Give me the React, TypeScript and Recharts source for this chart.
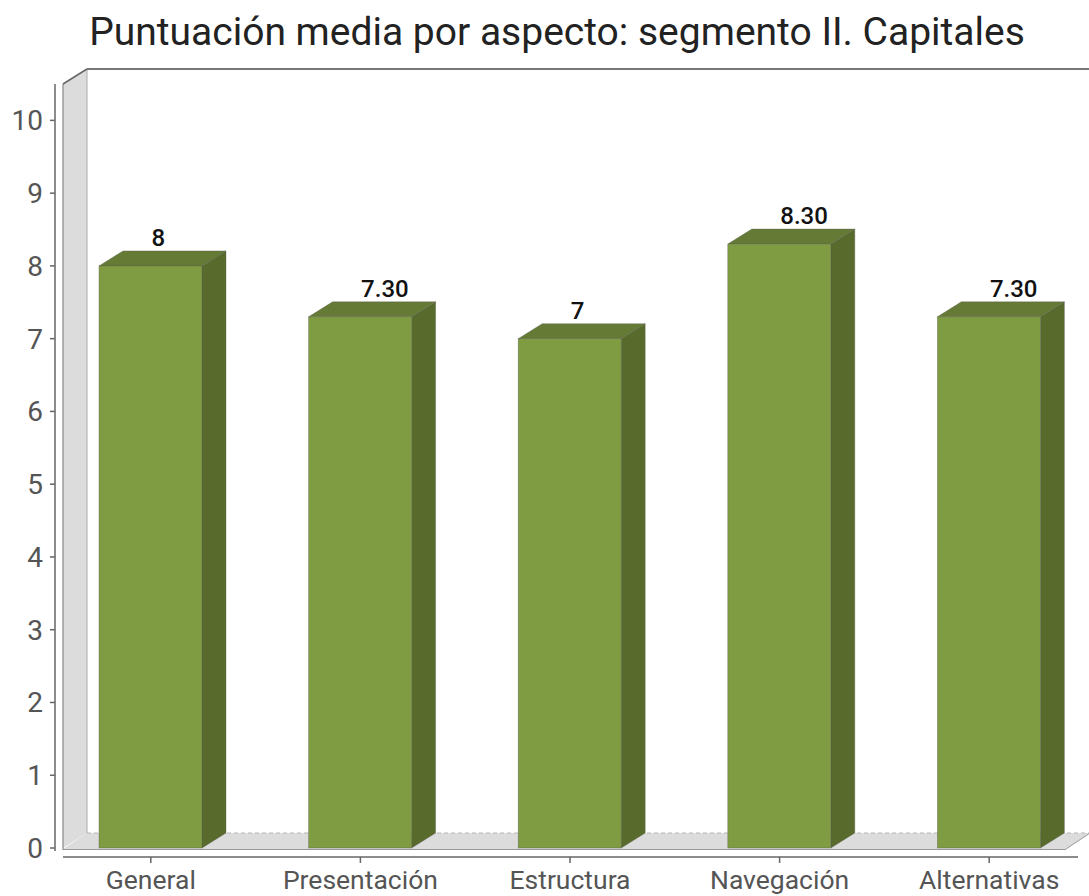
import React from 'react';
import { BarChart, Bar, XAxis, YAxis, LabelList } from 'recharts';

const categories = ['General', 'Presentación', 'Estructura', 'Navegación', 'Alternativas'];
const scores = [8, 7.3, 7, 8.3, 7.3];
const yTicks = [0, 1, 2, 3, 4, 5, 6, 7, 8, 9, 10];
const title = 'Puntuación media por aspecto: segmento II. Capitales';

const data = categories.map((name, i) => ({ name, value: scores[i] }));

const W = 1089;
const H = 896;
const TOP = 84;
const RIGHT = 23;
const Y_AXIS_W = 63;
const X_AXIS_H = 48;
const DX = 24;
const DY = -15;
const plotBottom = H - X_AXIS_H; // 848
const plotLeft = Y_AXIS_W; // 63
const plotRight = W - RIGHT; // 1066

const FONT = 'Roboto, "Noto Sans", sans-serif';

const fmt = (v: number) => (Number.isInteger(v) ? String(v) : v.toFixed(2));

const Bar3D = (props: any) => {
  const { x, y, width, height } = props;
  if (height == null || width == null) return null;
  const front = '#7f9c42';
  const top = '#657b35';
  const side = '#586b2c';
  const edge = 'rgba(90,90,80,0.6)';
  return (
    <g>
      <polygon
        points={`${x + width},${y} ${x + width + DX},${y + DY} ${x + width + DX},${y + height + DY} ${x + width},${y + height}`}
        fill={side}
        stroke={edge}
        strokeWidth={0.6}
      />
      <polygon
        points={`${x},${y} ${x + DX},${y + DY} ${x + width + DX},${y + DY} ${x + width},${y}`}
        fill={top}
        stroke={edge}
        strokeWidth={0.6}
      />
      <rect x={x} y={y} width={width} height={height} fill={front} stroke={edge} strokeWidth={0.6} />
    </g>
  );
};

const ValueLabel = (props: any) => {
  const { x, y, width, value } = props;
  return (
    <text
      x={x + width / 2 + 1}
      y={y + DY - 5}
      textAnchor="start"
      fontFamily={FONT}
      fontSize={24}
      fontWeight={500}
      fill="#111"
    >
      {fmt(Number(value))}
    </text>
  );
};

const YTick = (props: any) => {
  const { y, payload } = props;
  return (
    <g>
      <line x1={50} x2={55} y1={y} y2={y} stroke="#666" strokeWidth={1.5} />
      <text x={43} y={y + 10} textAnchor="end" fontFamily={FONT} fontSize={28} fill="#555">
        {payload.value}
      </text>
    </g>
  );
};

const XTick = (props: any) => {
  const { x, payload } = props;
  return (
    <g>
      <line x1={x} x2={x} y1={plotBottom + 9} y2={plotBottom + 15} stroke="#666" strokeWidth={1.5} />
      <text x={x} y={plotBottom + 41} textAnchor="middle" fontFamily={FONT} fontSize={26.5} fill="#555">
        {payload.value}
      </text>
    </g>
  );
};

const Background = () => {
  const backTop = TOP + DY;
  const backBottom = plotBottom + DY;
  return (
    <svg width={W} height={H} style={{ position: 'absolute', left: 0, top: 0 }}>
      <rect x={0} y={0} width={W} height={H} fill="#fff" />
      <text
        x={557}
        y={45}
        textAnchor="middle"
        fontFamily={FONT}
        fontSize={39}
        fontWeight={400}
        fill="#222"
      >
        {title}
      </text>
      {/* left wall */}
      <polygon
        points={`${plotLeft},${TOP} ${plotLeft + DX},${backTop} ${plotLeft + DX},${backBottom} ${plotLeft},${plotBottom}`}
        fill="#dcdcdc"
      />
      {/* floor */}
      <polygon
        points={`${plotLeft},${plotBottom + 1} ${plotLeft + DX},${backBottom} ${plotRight + DX},${backBottom} ${plotRight},${plotBottom + 1}`}
        fill="#dcdcdc"
      />
      <line x1={plotLeft + DX} x2={plotRight + DX} y1={backBottom} y2={backBottom} stroke="#b5b5b5" strokeWidth={1} strokeDasharray="4 3" />
      <line x1={plotLeft} x2={plotRight} y1={plotBottom + 1.5} y2={plotBottom + 1.5} stroke="#999" strokeWidth={1} />
      <line x1={plotRight} x2={plotRight + DX} y1={plotBottom + 1} y2={backBottom} stroke="#999" strokeWidth={1} />
      {/* wall edges */}
      <line x1={plotLeft} x2={plotLeft} y1={TOP} y2={plotBottom + 2} stroke="#888" strokeWidth={1.2} />
      <line x1={plotLeft + DX} x2={plotLeft + DX} y1={backTop} y2={backBottom} stroke="#aaa" strokeWidth={1} />
      <line x1={plotLeft} x2={plotLeft + DX} y1={TOP} y2={backTop} stroke="#666" strokeWidth={1.5} />
      <line x1={plotLeft + DX} x2={W} y1={backTop} y2={backTop} stroke="#777" strokeWidth={2} />
      {/* axis lines */}
      <line x1={55} x2={55} y1={TOP} y2={plotBottom + 3} stroke="#666" strokeWidth={1.5} />
      <line x1={plotLeft} x2={1078} y1={plotBottom + 9} y2={plotBottom + 9} stroke="#666" strokeWidth={1.5} />
    </svg>
  );
};

export default function App() {
  return (
    <div style={{ position: 'absolute', left: 0, top: 0, width: W, height: H, background: '#fff' }}>
      <Background />
      <div style={{ position: 'absolute', left: 0, top: 0 }}>
        <BarChart
          width={W}
          height={H}
          data={data}
          margin={{ top: TOP, right: RIGHT, bottom: 0, left: 0 }}
          style={{ overflow: 'visible' }}
        >
          <XAxis
            dataKey="name"
            height={X_AXIS_H}
            padding={{ left: -17, right: -28 }}
            axisLine={false}
            tickLine={false}
            interval={0}
            tick={<XTick />}
          />
          <YAxis
            width={Y_AXIS_W}
            domain={[0, 10.5]}
            ticks={yTicks}
            interval={0}
            axisLine={false}
            tickLine={false}
            tick={<YTick />}
          />
          <Bar dataKey="value" barSize={103} shape={<Bar3D />} isAnimationActive={false}>
            <LabelList dataKey="value" content={<ValueLabel />} />
          </Bar>
        </BarChart>
      </div>
    </div>
  );
}
